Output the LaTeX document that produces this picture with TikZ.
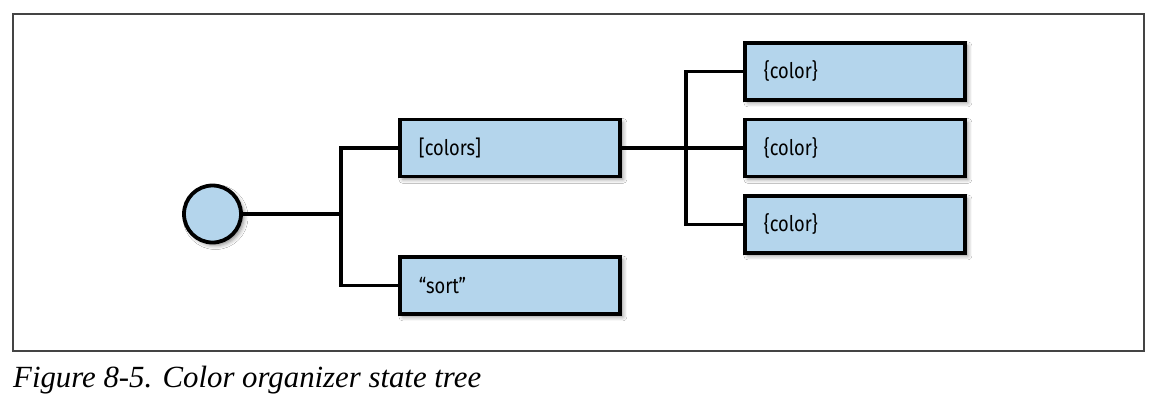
\documentclass[tikz,border=0pt]{standalone}
\usepackage{fontspec}
\setmainfont{Liberation Serif}
\newfontfamily\boxfont[FakeStretch=0.85]{Fira Sans}
\usetikzlibrary{shadows.blur}
\definecolor{boxblue}{HTML}{B4D5EC}
\definecolor{framegray}{HTML}{444444}
\begin{document}
\begin{tikzpicture}[x=1pt,y=-1pt,
  statebox/.style={draw=black, line width=3.8pt, fill=boxblue, minimum width=220pt, minimum height=57pt,
    inner sep=0pt, anchor=north west, text width=200pt, align=left, font=\boxfont\fontsize{21.5}{24}\selectfont,
    blur shadow={shadow xshift=3pt, shadow yshift=-3pt, shadow blur radius=4pt, shadow opacity=45}},
  rootnode/.style={draw=black, line width=3.8pt, fill=boxblue, circle, minimum size=57pt, inner sep=0pt,
    blur shadow={shadow xshift=3pt, shadow yshift=-3pt, shadow blur radius=4pt, shadow opacity=45}},
  link/.style={draw=black, line width=3.4pt}]
\useasboundingbox (0,0) rectangle (1164,402);
\fill[white] (0,0) rectangle (1164,402);
\draw[framegray, line width=2pt] (13,14) rectangle (1144,351);
% junction coordinates
\coordinate (j1) at (341,214);
\coordinate (j2) at (686,146);
% nodes
\node[rootnode] (root) at (212.5,214) {};
\node[statebox] (colors) at (398,117.5) {\hspace*{9pt}[colors]};
\node[statebox] (sort) at (398,255) {\hspace*{9pt}“sort”};
\node[statebox] (c1) at (743,41) {\hspace*{9pt}\{color\}};
\node[statebox] (c2) at (743,117.5) {\hspace*{9pt}\{color\}};
\node[statebox] (c3) at (743,194) {\hspace*{9pt}\{color\}};
% connectors
\draw[link] (root.east) -- (j1);
\draw[link] (colors.west) -| (j1) |- (sort.west);
\draw[link] (colors.east) -- (c2.west);
\draw[link] (c1.west) -| (j2) |- (c3.west);
% caption
\node[anchor=base west, inner sep=0pt, font=\itshape\fontsize{30.8}{33}\selectfont] (cap) at (13,387) {Figure 8-5. Color organizer state tree};
\end{tikzpicture}
\end{document}
